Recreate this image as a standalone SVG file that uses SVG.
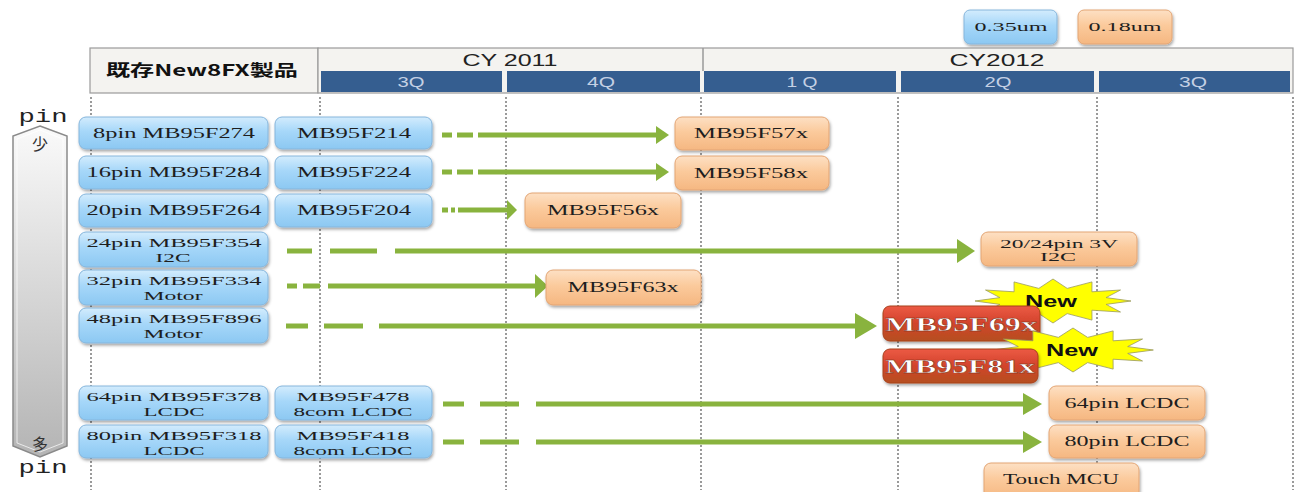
<svg xmlns="http://www.w3.org/2000/svg" width="1298" height="492" viewBox="0 0 1298 492">
<defs>
<linearGradient id="gBlue" x1="0" y1="0" x2="0" y2="1"><stop offset="0" stop-color="#d3ecfd"/><stop offset="0.45" stop-color="#a6d7f9"/><stop offset="1" stop-color="#8cc8f2"/></linearGradient>
<linearGradient id="gOr" x1="0" y1="0" x2="0" y2="1"><stop offset="0" stop-color="#fde0c4"/><stop offset="0.45" stop-color="#fbca9c"/><stop offset="1" stop-color="#f5b781"/></linearGradient>
<linearGradient id="gRed" x1="0" y1="0" x2="0" y2="1"><stop offset="0" stop-color="#ec5a45"/><stop offset="0.5" stop-color="#d2432b"/><stop offset="1" stop-color="#b5501f"/></linearGradient>
<linearGradient id="gBar" x1="0" y1="0" x2="0" y2="1"><stop offset="0" stop-color="#fafafa"/><stop offset="1" stop-color="#b4b4b4"/></linearGradient>
<filter id="sh" x="-10%" y="-20%" width="120%" height="150%"><feDropShadow dx="1" dy="2" stdDeviation="1.4" flood-color="#000" flood-opacity="0.35"/></filter>
<polygon id="star" points="78,0 53.1,3.4 67.5,11 38.9,9.2 39,19.1 14.2,12.6 0,22 -14.2,12.6 -39,19.1 -38.9,9.2 -67.5,11 -53.1,3.4 -78,0 -53.1,-3.4 -67.5,-11 -38.9,-9.2 -39,-19.1 -14.2,-12.6 0,-22 14.2,-12.6 39,-19.1 38.9,-9.2 67.5,-11 53.1,-3.4"/>
</defs>
<style>
.blue{fill:url(#gBlue);stroke:#86b6dc;stroke-width:1;filter:url(#sh)}
.or{fill:url(#gOr);stroke:#e3a574;stroke-width:1;filter:url(#sh)}
.red{fill:url(#gRed);stroke:#a8401c;stroke-width:1;filter:url(#sh)}
.bt{font-family:"Liberation Serif",serif;font-size:14px;fill:#1e1e1e;text-anchor:middle}
.bt2{font-family:"Liberation Serif",serif;font-size:13px;fill:#1e1e1e;text-anchor:middle}
.rt{font-family:"Liberation Serif",serif;font-size:19px;font-weight:bold;fill:#fff;text-anchor:middle;stroke:#7a2a10;stroke-width:0.4}
.nw{font-family:"Liberation Sans",Arial,sans-serif;font-size:17px;font-weight:bold;fill:#111;text-anchor:middle}
.hd{font-family:"Liberation Sans",Arial,sans-serif;font-size:16px;fill:#222;text-anchor:middle}
.q{font-family:"Liberation Sans",Arial,sans-serif;font-size:14px;fill:#c4d0e4;text-anchor:middle}
.qb{fill:#355e90}
.grid{stroke:#7a7a7a;stroke-width:1.5;stroke-dasharray:2 2;fill:none}
.ln{stroke:#89b33e;stroke-width:5;fill:none}
.hd2{fill:#89b33e}
.star{fill:#ffff00;stroke:#9a9a60;stroke-width:0.8}
.pin{font-family:"Liberation Mono",monospace;font-size:19px;fill:#222;text-anchor:middle}
.kj{font-family:"Noto Sans CJK JP",sans-serif;font-size:16px;fill:#333;text-anchor:middle}
</style>

<!-- legend -->
<g id="legend-035"><rect class="blue" x="964" y="10" width="93" height="34" rx="6"/><text class="bt2" x="1011" y="31" textLength="73" lengthAdjust="spacingAndGlyphs">0.35um</text></g>
<g id="legend-018"><rect class="or" x="1078" y="10" width="94" height="34" rx="6"/><text class="bt2" x="1125" y="31" textLength="73" lengthAdjust="spacingAndGlyphs">0.18um</text></g>

<!-- header -->
<g id="header">
<rect x="90" y="48" width="228" height="45" fill="#f4f3f0" stroke="#9a9a9a" stroke-width="1.2"/>
<text x="202" y="76" font-family="'Noto Sans CJK JP',sans-serif" font-size="16" font-weight="bold" fill="#111" text-anchor="middle" textLength="192" lengthAdjust="spacingAndGlyphs">既存New8FX製品</text>
<rect x="318" y="48" width="975" height="45" fill="#f4f3f0" stroke="#9a9a9a" stroke-width="1.2"/>
<line x1="703" y1="48" x2="703" y2="71" stroke="#9a9a9a" stroke-width="1.5"/>
<text class="hd" x="510" y="66" textLength="95" lengthAdjust="spacingAndGlyphs">CY 2011</text>
<text class="hd" x="997" y="66" textLength="95" lengthAdjust="spacingAndGlyphs">CY2012</text>
<rect class="qb" x="321" y="71" width="181" height="21"/>
<rect class="qb" x="507" y="71" width="193" height="21"/>
<rect class="qb" x="704" y="71" width="192" height="21"/>
<rect class="qb" x="901" y="71" width="193" height="21"/>
<rect class="qb" x="1099" y="71" width="191" height="21"/>
<text class="q" x="411" y="87" textLength="27" lengthAdjust="spacingAndGlyphs">3Q</text>
<text class="q" x="601" y="87" textLength="28" lengthAdjust="spacingAndGlyphs">4Q</text>
<text class="q" x="802" y="87" textLength="31" lengthAdjust="spacingAndGlyphs">1 Q</text>
<text class="q" x="998" y="87" textLength="27" lengthAdjust="spacingAndGlyphs">2Q</text>
<text class="q" x="1193" y="87" textLength="28" lengthAdjust="spacingAndGlyphs">3Q</text>
</g>

<!-- grid -->
<g id="grid">
<line class="grid" x1="91" y1="97" x2="91" y2="490"/>
<line class="grid" x1="320" y1="97" x2="320" y2="490"/>
<line class="grid" x1="506" y1="97" x2="506" y2="490"/>
<line class="grid" x1="701" y1="97" x2="701" y2="490"/>
<line class="grid" x1="898" y1="97" x2="898" y2="490"/>
<line class="grid" x1="1097" y1="97" x2="1097" y2="490"/>
<line class="grid" x1="1293" y1="97" x2="1293" y2="490"/>
</g>

<!-- pin axis -->
<g id="pin-axis">
<text class="pin" x="43" y="122" textLength="49" lengthAdjust="spacingAndGlyphs">pin</text>
<polygon points="40,126 67,136 67,446 40,457 13,446 13,136" fill="url(#gBar)" stroke="#8a8a8a" stroke-width="1.5"/>
<polygon points="40,130 63,139 63,443 40,452 17,443 17,139" fill="none" stroke="#ffffff" stroke-width="1" opacity="0.7"/>
<text class="kj" x="40" y="150">少</text>
<text class="kj" x="40" y="450">多</text>
<text class="pin" x="43" y="473" textLength="49" lengthAdjust="spacingAndGlyphs">pin</text>
</g>

<!-- existing products column 1 -->
<g id="n-8pin"><rect class="blue" x="79" y="117" width="189" height="32" rx="7"/><text class="bt" x="174" y="138" textLength="162" lengthAdjust="spacingAndGlyphs">8pin MB95F274</text></g>
<g id="n-16pin"><rect class="blue" x="79" y="156" width="189" height="33" rx="7"/><text class="bt" x="174" y="177" textLength="175" lengthAdjust="spacingAndGlyphs">16pin MB95F284</text></g>
<g id="n-20pin"><rect class="blue" x="79" y="194" width="189" height="33" rx="7"/><text class="bt" x="174" y="215" textLength="175" lengthAdjust="spacingAndGlyphs">20pin MB95F264</text></g>
<g id="n-24pin"><rect class="blue" x="79" y="232" width="189" height="35" rx="7"/><text class="bt2" x="174" y="247" textLength="175" lengthAdjust="spacingAndGlyphs">24pin MB95F354</text><text class="bt2" x="173" y="262" textLength="35" lengthAdjust="spacingAndGlyphs">I2C</text></g>
<g id="n-32pin"><rect class="blue" x="79" y="270" width="189" height="35" rx="7"/><text class="bt2" x="174" y="285" textLength="175" lengthAdjust="spacingAndGlyphs">32pin MB95F334</text><text class="bt2" x="173" y="300" textLength="59" lengthAdjust="spacingAndGlyphs">Motor</text></g>
<g id="n-48pin"><rect class="blue" x="79" y="308" width="189" height="35" rx="7"/><text class="bt2" x="174" y="323" textLength="175" lengthAdjust="spacingAndGlyphs">48pin MB95F896</text><text class="bt2" x="173" y="338" textLength="59" lengthAdjust="spacingAndGlyphs">Motor</text></g>
<g id="n-64pin"><rect class="blue" x="79" y="386" width="189" height="34" rx="7"/><text class="bt2" x="174" y="401" textLength="175" lengthAdjust="spacingAndGlyphs">64pin MB95F378</text><text class="bt2" x="174" y="416" textLength="61" lengthAdjust="spacingAndGlyphs">LCDC</text></g>
<g id="n-80pin"><rect class="blue" x="79" y="425" width="189" height="33" rx="7"/><text class="bt2" x="174" y="440" textLength="175" lengthAdjust="spacingAndGlyphs">80pin MB95F318</text><text class="bt2" x="174" y="455" textLength="61" lengthAdjust="spacingAndGlyphs">LCDC</text></g>

<!-- column 2 -->
<g id="n-F214"><rect class="blue" x="275" y="117" width="157" height="32" rx="7"/><text class="bt" x="354" y="138" textLength="114" lengthAdjust="spacingAndGlyphs">MB95F214</text></g>
<g id="n-F224"><rect class="blue" x="275" y="156" width="157" height="33" rx="7"/><text class="bt" x="354" y="177" textLength="114" lengthAdjust="spacingAndGlyphs">MB95F224</text></g>
<g id="n-F204"><rect class="blue" x="275" y="194" width="157" height="33" rx="7"/><text class="bt" x="354" y="215" textLength="114" lengthAdjust="spacingAndGlyphs">MB95F204</text></g>
<g id="n-F478"><rect class="blue" x="275" y="386" width="157" height="34" rx="7"/><text class="bt2" x="353" y="401" textLength="113" lengthAdjust="spacingAndGlyphs">MB95F478</text><text class="bt2" x="353" y="416" textLength="119" lengthAdjust="spacingAndGlyphs">8com LCDC</text></g>
<g id="n-F418"><rect class="blue" x="275" y="425" width="157" height="33" rx="7"/><text class="bt2" x="353" y="440" textLength="113" lengthAdjust="spacingAndGlyphs">MB95F418</text><text class="bt2" x="353" y="455" textLength="119" lengthAdjust="spacingAndGlyphs">8com LCDC</text></g>

<!-- connectors -->
<g id="connectors">
<path class="ln" d="M442,135H452M457,135H473M478,135H657"/><polygon class="hd2" points="656,126 669,135 656,144"/>
<path class="ln" d="M442,172H452M457,172H473M478,172H657"/><polygon class="hd2" points="656,163 669,172 656,181"/>
<path class="ln" d="M442,210H448M451,210H455M458,210H508"/><polygon class="hd2" points="507,200 517,210 507,220"/>
<path class="ln" d="M287,251H312M330,251H377M395,251H958"/><polygon class="hd2" points="957,239 975,251 957,263"/>
<path class="ln" d="M287,286H297M303,286H320M328,286H536"/><polygon class="hd2" points="535,274 548,286 535,298"/>
<path class="ln" d="M286,326H308M324,326H363M379,326H856"/><polygon class="hd2" points="855,313 877,326 855,339"/>
<path class="ln" d="M443,404H464M480,404H519M536,404H1024"/><polygon class="hd2" points="1023,393 1042,404 1023,415"/>
<path class="ln" d="M443,442H464M480,442H519M536,442H1024"/><polygon class="hd2" points="1023,431 1042,442 1023,453"/>
</g>

<!-- new products -->
<g id="n-F57x"><rect class="or" x="675" y="117" width="154" height="33" rx="7"/><text class="bt" x="751" y="138" textLength="114" lengthAdjust="spacingAndGlyphs">MB95F57x</text></g>
<g id="n-F58x"><rect class="or" x="675" y="156" width="154" height="34" rx="7"/><text class="bt" x="751" y="178" textLength="114" lengthAdjust="spacingAndGlyphs">MB95F58x</text></g>
<g id="n-F56x"><rect class="or" x="525" y="193" width="156" height="35" rx="7"/><text class="bt" x="603" y="215" textLength="112" lengthAdjust="spacingAndGlyphs">MB95F56x</text></g>
<g id="n-F63x"><rect class="or" x="546" y="270" width="155" height="35" rx="7"/><text class="bt" x="623" y="292" textLength="111" lengthAdjust="spacingAndGlyphs">MB95F63x</text></g>
<g id="n-3V"><rect class="or" x="981" y="232" width="156" height="34" rx="7"/><text class="bt2" x="1059" y="248" textLength="118" lengthAdjust="spacingAndGlyphs">20/24pin 3V</text><text class="bt2" x="1058" y="261" textLength="36" lengthAdjust="spacingAndGlyphs">I2C</text></g>
<g id="n-64LCDC"><rect class="or" x="1049" y="386" width="156" height="34" rx="7"/><text class="bt" x="1127" y="408" textLength="125" lengthAdjust="spacingAndGlyphs">64pin LCDC</text></g>
<g id="n-80LCDC"><rect class="or" x="1049" y="425" width="156" height="33" rx="7"/><text class="bt" x="1127" y="446" textLength="125" lengthAdjust="spacingAndGlyphs">80pin LCDC</text></g>
<g id="n-touch"><rect class="or" x="984" y="463" width="155" height="36" rx="7"/><text class="bt" x="1061" y="484" textLength="116" lengthAdjust="spacingAndGlyphs">Touch MCU</text></g>

<g id="n-new1"><use href="#star" class="star" transform="translate(1053,301)"/><text class="nw" x="1051" y="307" textLength="52" lengthAdjust="spacingAndGlyphs">New</text></g>
<g id="n-F69x"><rect class="red" x="883" y="306" width="157" height="35" rx="7"/><text class="rt" x="961" y="331" textLength="152" lengthAdjust="spacingAndGlyphs">MB95F69x</text></g>
<g id="n-new2"><use href="#star" class="star" transform="translate(1073,350) scale(1.03,1)"/><text class="nw" x="1072" y="356" textLength="52" lengthAdjust="spacingAndGlyphs">New</text></g>
<g id="n-F81x"><rect class="red" x="883" y="349" width="155" height="34" rx="7"/><text class="rt" x="960" y="373" textLength="150" lengthAdjust="spacingAndGlyphs">MB95F81x</text></g>
</svg>
